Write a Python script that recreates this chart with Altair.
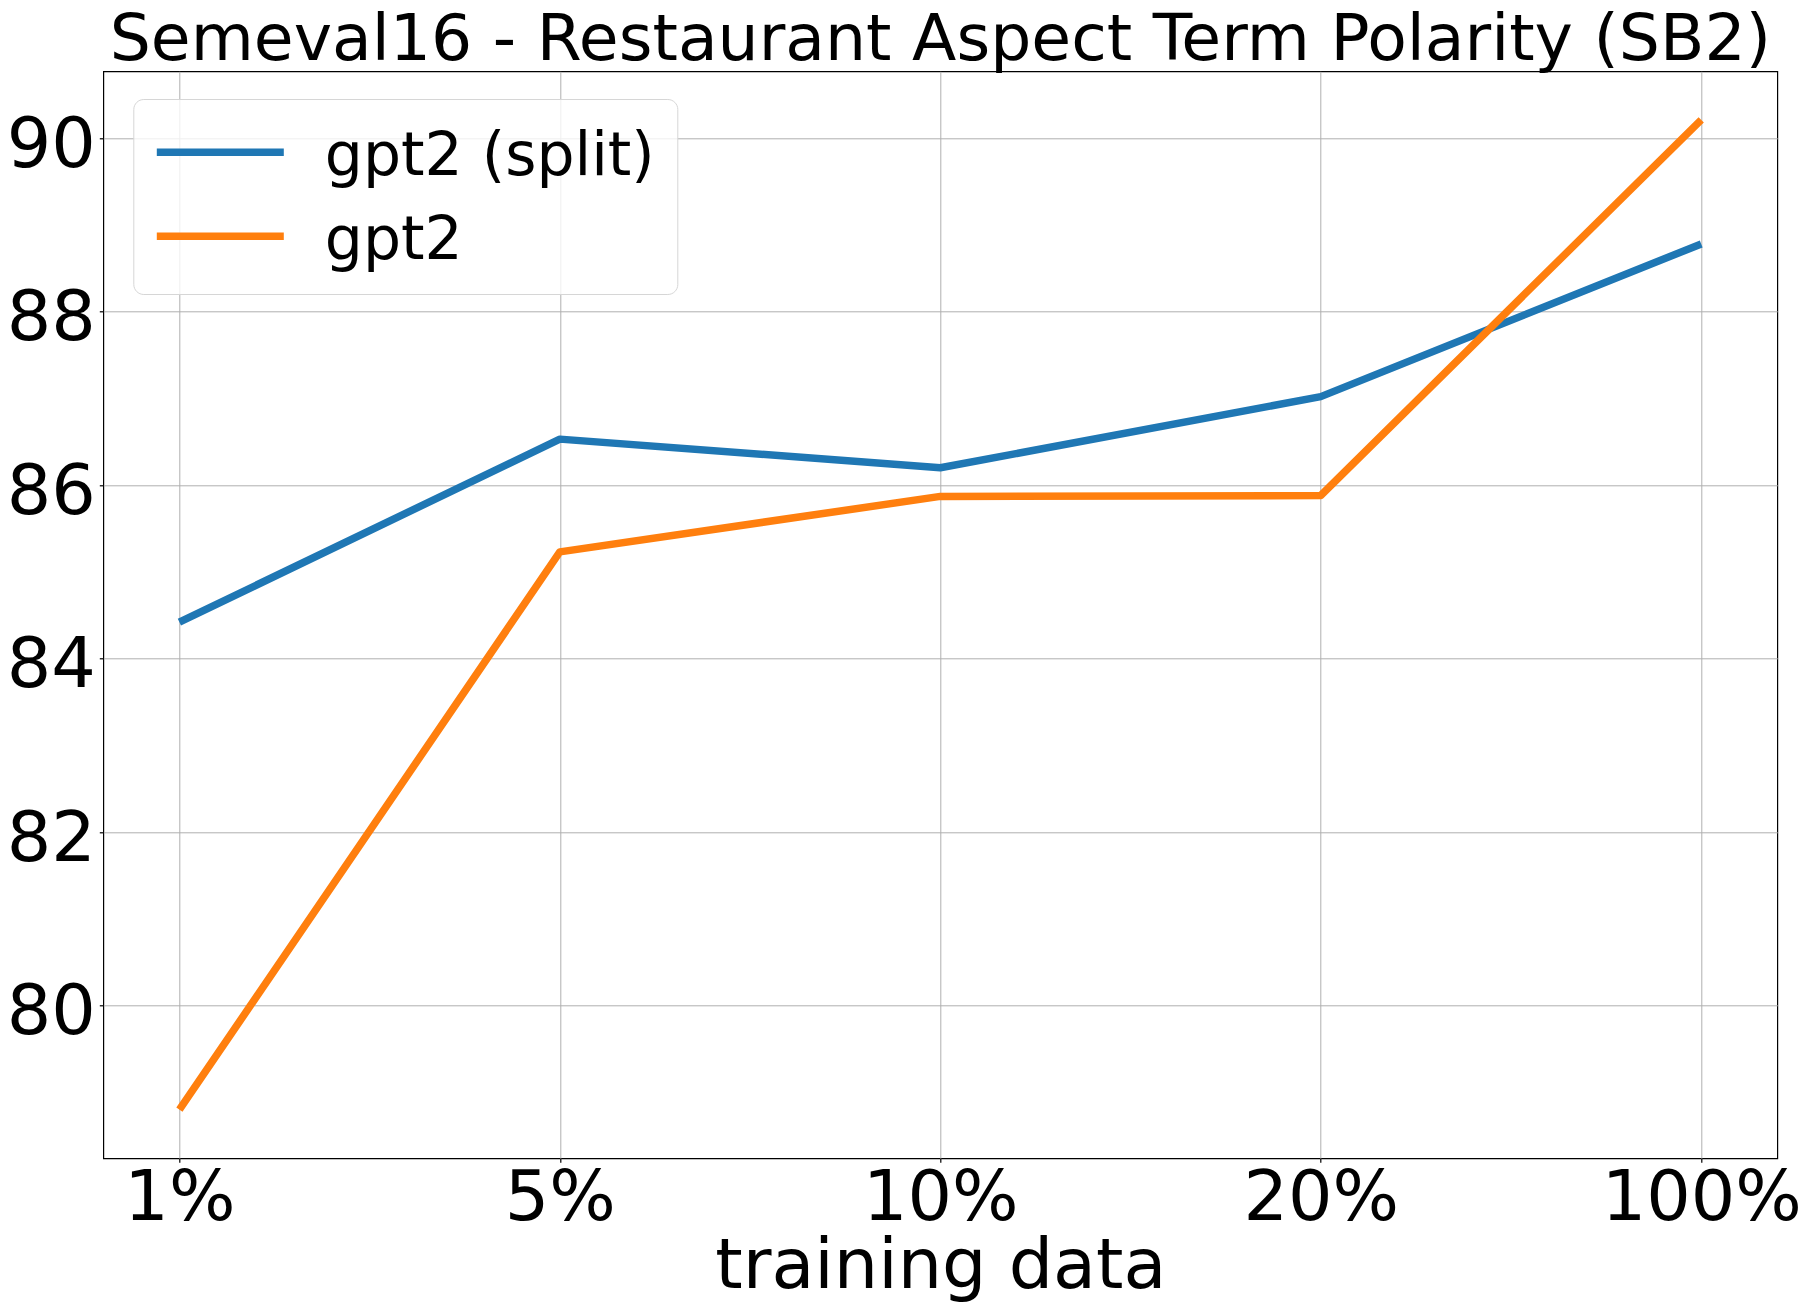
import altair as alt
import pandas as pd

# ---- data ----
x_labels = ["1%", "5%", "10%", "20%", "100%"]
series_names = ["gpt2 (split)", "gpt2"]
gpt2_split = [84.42, 86.53, 86.20, 87.02, 88.78]
gpt2_plain = [78.80, 85.23, 85.87, 85.88, 90.21]
y_ticks = [80, 82, 84, 86, 88, 90]
colors = ["#1f77b4", "#ff7f0e"]

rows = []
for name, vals in zip(series_names, [gpt2_split, gpt2_plain]):
    for i, (lab, v) in enumerate(zip(x_labels, vals)):
        rows.append({"data": lab, "acc": v, "model": name, "order": i})
df = pd.DataFrame(rows)

FONT = "DejaVu Sans"

chart = alt.Chart(df).mark_line(strokeWidth=7.5, strokeCap="butt", strokeJoin="round").encode(
    x=alt.X(
        "data:O",
        sort=x_labels,
        scale=alt.Scale(padding=0.2),
        axis=alt.Axis(
            title="training data",
            labelAngle=0,
            labelFontSize=70,
            labelLimit=0,
            titleFontSize=70,
            titleFontWeight="normal",
            titlePadding=-1,
            tickSize=4,
            labelPadding=2,
            grid=True,
        ),
    ),
    y=alt.Y(
        "acc:Q",
        scale=alt.Scale(domain=[78.24, 90.77], nice=False, zero=False),
        axis=alt.Axis(
            title=None,
            values=y_ticks,
            format="d",
            labelFontSize=70,
            tickSize=4,
            labelPadding=4,
            labelOffset=7,
            grid=True,
        ),
    ),
    color=alt.Color(
        "model:N",
        scale=alt.Scale(domain=series_names, range=colors),
        legend=alt.Legend(
            title=None,
            orient="none",
            legendX=30,
            legendY=27.7,
            symbolType="M-2,-0.15H2",
            symbolSize=4032,
            symbolStrokeWidth=7.5,
            symbolOffset=29,
            labelOffset=69,
            labelFontSize=60,
            labelLimit=0,
            rowPadding=18,
            padding=22.5,
            strokeColor="#d6d6d6",
            fillColor="rgba(255,255,255,0.8)",
            cornerRadius=10,
        ),
    ),
    order="order:Q",
).properties(
    width=1674,
    height=1087,
    autosize=alt.AutoSizeParams(type="none"),
    padding={"left": 95.3, "top": 63.3, "right": 22.7, "bottom": 143.7},
    title=alt.TitleParams(
        "Semeval16 - Restaurant Aspect Term Polarity (SB2)",
        fontSize=64.8,
        font=FONT,
        fontWeight="normal",
        anchor="middle",
        frame="group",
        offset=-2,
        color="black",
    ),
).configure(font=FONT).configure_axis(
    labelFont=FONT,
    titleFont=FONT,
    labelColor="black",
    titleColor="black",
    domain=False,
    tickColor="black",
    tickWidth=1.2,
    gridColor="#b0b0b0",
    gridWidth=1,
).configure_legend(
    labelFont=FONT, labelColor="black"
).configure_view(
    stroke="black", strokeWidth=1.2
)

chart.save("out.html", embed_options={"renderer": "svg", "actions": False})
